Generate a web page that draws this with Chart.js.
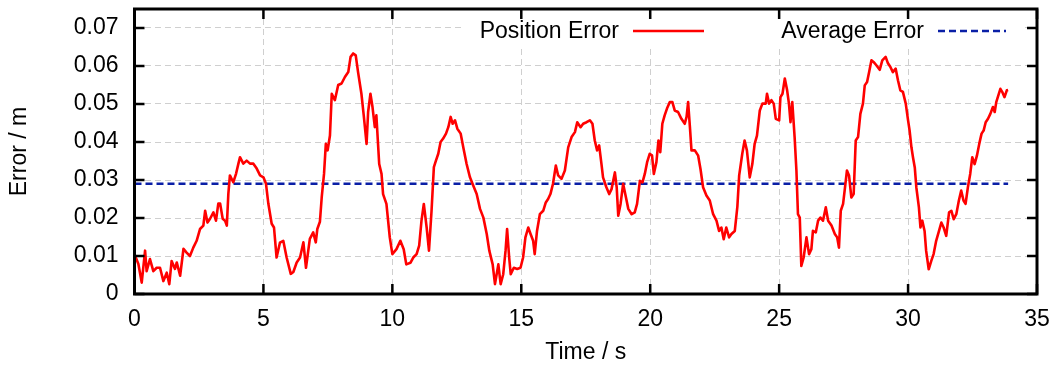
<!DOCTYPE html>
<html>
<head>
<meta charset="utf-8">
<script src="https://cdn.jsdelivr.net/npm/chart.js@4"></script>
<style>
  html, body { margin: 0; padding: 0; background: #fff; }
  #wrap { width: 1057px; height: 367px; }
</style>
</head>
<body>
<div id="wrap"><canvas id="canvas0" width="1057" height="367"></canvas></div>
<script>
// time (s) and position error (m)
const timeS = [
  0, 0.15, 0.28, 0.41, 0.47, 0.60, 0.73, 0.86, 0.99, 1.12, 1.25, 1.35, 1.44, 1.57, 1.64, 1.77, 1.90,
  2.02, 2.15, 2.28, 2.41, 2.54, 2.67, 2.74, 2.83, 2.93, 3.06, 3.16, 3.25, 3.32, 3.42, 3.51, 3.58,
  3.64, 3.70, 3.83, 3.94, 4.03, 4.09, 4.22, 4.35, 4.48, 4.61, 4.74, 4.87, 5.00, 5.10, 5.19, 5.32,
  5.41, 5.51, 5.64, 5.77, 5.90, 6.06, 6.16, 6.29, 6.42, 6.55, 6.65, 6.80, 6.93, 7.03, 7.09, 7.19,
  7.26, 7.35, 7.42, 7.49, 7.58, 7.65, 7.77, 7.90, 8.03, 8.16, 8.29, 8.38, 8.48, 8.58, 8.67, 8.80,
  8.89, 9.00, 9.06, 9.15, 9.23, 9.32, 9.38, 9.49, 9.58, 9.64, 9.77, 9.90, 10.00, 10.16, 10.31, 10.44,
  10.54, 10.70, 10.81, 10.94, 11.04, 11.13, 11.22, 11.33, 11.42, 11.52, 11.61, 11.69, 11.78, 11.87,
  11.97, 12.08, 12.17, 12.26, 12.34, 12.43, 12.52, 12.65, 12.75, 12.88, 13.01, 13.14, 13.27, 13.40,
  13.53, 13.66, 13.76, 13.89, 13.98, 14.11, 14.20, 14.30, 14.39, 14.45, 14.53, 14.59, 14.71, 14.84,
  14.97, 15.07, 15.16, 15.27, 15.36, 15.46, 15.52, 15.61, 15.72, 15.85, 15.95, 16.04, 16.13, 16.23,
  16.34, 16.43, 16.56, 16.69, 16.82, 16.95, 17.08, 17.17, 17.30, 17.40, 17.53, 17.66, 17.76, 17.85,
  17.94, 18.02, 18.11, 18.17, 18.30, 18.41, 18.50, 18.63, 18.70, 18.76, 18.85, 18.95, 19.06, 19.15,
  19.28, 19.40, 19.49, 19.60, 19.70, 19.79, 19.88, 19.98, 20.07, 20.14, 20.24, 20.32, 20.39, 20.47,
  20.56, 20.65, 20.76, 20.86, 20.95, 21.08, 21.21, 21.34, 21.41, 21.47, 21.54, 21.60, 21.73, 21.86,
  21.95, 22.05, 22.18, 22.31, 22.44, 22.57, 22.67, 22.76, 22.85, 22.95, 23.06, 23.15, 23.28, 23.38,
  23.45, 23.57, 23.66, 23.75, 23.86, 23.96, 24.05, 24.14, 24.25, 24.35, 24.48, 24.53, 24.61, 24.70,
  24.79, 24.87, 25.00, 25.05, 25.13, 25.22, 25.31, 25.38, 25.44, 25.51, 25.60, 25.67, 25.73, 25.80,
  25.86, 25.95, 26.06, 26.16, 26.25, 26.31, 26.42, 26.51, 26.60, 26.70, 26.81, 26.90, 27.03, 27.16,
  27.25, 27.32, 27.39, 27.48, 27.54, 27.63, 27.71, 27.80, 27.89, 27.97, 28.06, 28.15, 28.25, 28.32,
  28.41, 28.49, 28.58, 28.67, 28.77, 28.90, 29.00, 29.13, 29.22, 29.31, 29.41, 29.52, 29.61, 29.70,
  29.80, 29.91, 30.00, 30.06, 30.13, 30.19, 30.26, 30.32, 30.42, 30.48, 30.55, 30.64, 30.70, 30.80,
  30.90, 30.99, 31.09, 31.20, 31.29, 31.38, 31.48, 31.59, 31.68, 31.77, 31.87, 31.97, 32.06, 32.15,
  32.23, 32.32, 32.41, 32.49, 32.58, 32.67, 32.76, 32.85, 32.93, 33.01, 33.10, 33.19, 33.29, 33.36,
  33.42, 33.48, 33.58, 33.65, 33.74, 33.83, 33.88
];
const positionError = [
  0.0105, 0.0079, 0.0030, 0.0114, 0.0060, 0.0092, 0.0060, 0.0069, 0.0069, 0.0034, 0.0056, 0.0026, 0.0087, 0.0066, 0.0083, 0.0048, 0.0119,
  0.0109, 0.0100, 0.0122, 0.0140, 0.0171, 0.0180, 0.0219, 0.0188, 0.0198, 0.0215, 0.0193, 0.0238, 0.0238, 0.0198, 0.0193, 0.0180,
  0.0264, 0.0312, 0.0294, 0.0317, 0.0343, 0.0360, 0.0343, 0.0351, 0.0343, 0.0343, 0.0330, 0.0312, 0.0307, 0.0290, 0.0238, 0.0185,
  0.0175, 0.0096, 0.0135, 0.0140, 0.0096, 0.0053, 0.0058, 0.0083, 0.0096, 0.0136, 0.0069, 0.0145, 0.0162, 0.0136, 0.0171, 0.0190,
  0.0254, 0.0316, 0.0395, 0.0378, 0.0417, 0.0527, 0.0510, 0.0550, 0.0554, 0.0571, 0.0584, 0.0624, 0.0633, 0.0628, 0.0584, 0.0527,
  0.0470, 0.0395, 0.0479, 0.0527, 0.0492, 0.0439, 0.0470, 0.0342, 0.0316, 0.0263, 0.0237, 0.0149, 0.0105, 0.0118, 0.0140, 0.0118,
  0.0078, 0.0082, 0.0096, 0.0105, 0.0127, 0.0193, 0.0237, 0.0175, 0.0114, 0.0219, 0.0334, 0.0351, 0.0369, 0.0400,
  0.0409, 0.0422, 0.0439, 0.0466, 0.0448, 0.0457, 0.0435, 0.0422, 0.0386, 0.0342, 0.0307, 0.0285, 0.0263, 0.0224,
  0.0201, 0.0158, 0.0114, 0.0078, 0.0026, 0.0078, 0.0026, 0.0052, 0.0114, 0.0171, 0.0096, 0.0052, 0.0069, 0.0066,
  0.0069, 0.0096, 0.0149, 0.0175, 0.0158, 0.0140, 0.0105, 0.0166, 0.0210, 0.0219, 0.0241, 0.0250, 0.0263, 0.0290,
  0.0338, 0.0312, 0.0303, 0.0325, 0.0386, 0.0413, 0.0426, 0.0452, 0.0439, 0.0448, 0.0452, 0.0457, 0.0448, 0.0404,
  0.0378, 0.0391, 0.0342, 0.0307, 0.0281, 0.0263, 0.0276, 0.0320, 0.0281, 0.0206, 0.0237, 0.0290, 0.0254, 0.0224,
  0.0210, 0.0215, 0.0237, 0.0298, 0.0294, 0.0316, 0.0347, 0.0369, 0.0365, 0.0316, 0.0347, 0.0404, 0.0373, 0.0448,
  0.0470, 0.0488, 0.0505, 0.0505, 0.0483, 0.0479, 0.0461, 0.0448, 0.0466, 0.0505, 0.0439, 0.0378, 0.0378, 0.0364,
  0.0329, 0.0281, 0.0259, 0.0246, 0.0210, 0.0193, 0.0166, 0.0175, 0.0144, 0.0175, 0.0149, 0.0158, 0.0166, 0.0230,
  0.0312, 0.0369, 0.0404, 0.0378, 0.0307, 0.0342, 0.0395, 0.0417, 0.0483, 0.0501, 0.0501, 0.0527, 0.0501, 0.0510,
  0.0501, 0.0461, 0.0457, 0.0518, 0.0527, 0.0567, 0.0536, 0.0501, 0.0452, 0.0505, 0.0413, 0.0325, 0.0210, 0.0201,
  0.0074, 0.0096, 0.0149, 0.0105, 0.0118, 0.0166, 0.0162, 0.0193, 0.0201, 0.0193, 0.0228, 0.0193, 0.0180, 0.0158,
  0.0149, 0.0122, 0.0219, 0.0237, 0.0272, 0.0325, 0.0312, 0.0254, 0.0263, 0.0404, 0.0413, 0.0474, 0.0501, 0.0549,
  0.0558, 0.0584, 0.0615, 0.0610, 0.0602, 0.0590, 0.0615, 0.0624, 0.0607, 0.0598, 0.0584, 0.0593, 0.0562, 0.0536,
  0.0532, 0.0501, 0.0457, 0.0430, 0.0386, 0.0360, 0.0333, 0.0281, 0.0228, 0.0175, 0.0193, 0.0166, 0.0114, 0.0065,
  0.0087, 0.0105, 0.0140, 0.0166, 0.0188, 0.0175, 0.0153, 0.0215, 0.0219, 0.0197, 0.0210, 0.0246, 0.0272, 0.0246,
  0.0237, 0.0281, 0.0316, 0.0360, 0.0342, 0.0364, 0.0395, 0.0422, 0.0430, 0.0452, 0.0461, 0.0474, 0.0492, 0.0479,
  0.0505, 0.0518, 0.0540, 0.0532, 0.0518, 0.0536, 0.0537
];
const avgTime = [0, 33.88];
const avgError = [0.029, 0.029];
const xTicks = [0, 5, 10, 15, 20, 25, 30, 35];
const yTicks = [0, 0.01, 0.02, 0.03, 0.04, 0.05, 0.06, 0.07];
const seriesNames = ['Position Error', 'Average Error'];

const FONT = "'Liberation Sans', Arial, Helvetica, sans-serif";
const fontSpec = { family: FONT, size: 23 };
Chart.defaults.font.family = FONT;
Chart.defaults.color = '#000';

function toPoints(xs, ys) {
  let pts = [];
  for (let i = 0; i < xs.length; i++) pts.push({ x: xs[i], y: ys[i] });
  return pts;
}

// gnuplot style frame: border, inward mirrored ticks, opaque key
const gnuFrame = {
  id: 'gnuFrame',
  beforeDatasetsDraw(chart) {
    const ctx = chart.ctx;
    ctx.save();
    ctx.fillStyle = '#fff';
    ctx.fillRect(462, chart.chartArea.top, 560, 40);
    ctx.restore();
  },
  afterDraw(chart) {
    const ctx = chart.ctx;
    const a = chart.chartArea;
    const xs = chart.scales.x, ys = chart.scales.y;
    ctx.save();
    ctx.strokeStyle = '#000';
    ctx.lineWidth = 2.5;
    ctx.beginPath();
    xTicks.forEach(v => {
      const px = xs.getPixelForValue(v);
      ctx.moveTo(px, a.bottom); ctx.lineTo(px, a.bottom - 10);
      ctx.moveTo(px, a.top); ctx.lineTo(px, a.top + 10);
    });
    yTicks.forEach(v => {
      const py = ys.getPixelForValue(v);
      ctx.moveTo(a.left, py); ctx.lineTo(a.left + 10, py);
      ctx.moveTo(a.right, py); ctx.lineTo(a.right - 10, py);
    });
    ctx.stroke();
    ctx.lineWidth = 3;
    ctx.strokeRect(a.left, a.top, a.right - a.left, a.bottom - a.top);

    // key
    ctx.font = '23px ' + FONT;
    ctx.fillStyle = '#000';
    ctx.textAlign = 'right';
    ctx.textBaseline = 'middle';
    const keyX = [619, 924];
    chart.data.datasets.forEach((ds, i) => {
      ctx.fillText(seriesNames[i], keyX[i], 32);
      ctx.strokeStyle = ds.borderColor;
      ctx.lineWidth = ds.borderWidth;
      ctx.setLineDash(ds.borderDash || []);
      ctx.beginPath();
      ctx.moveTo(keyX[i] + 14, 31);
      ctx.lineTo(keyX[i] + (i === 0 ? 85 : 82), 31);
      ctx.stroke();
    });
    ctx.restore();
  }
};

const ctx = document.getElementById('canvas0').getContext('2d');
const myChart = new Chart(ctx, {
  type: 'line',
  data: {
    datasets: [
      {
        label: seriesNames[0],
        data: toPoints(timeS, positionError),
        borderColor: '#ff0000',
        borderWidth: 2.6,
        borderJoinStyle: 'round',
        pointRadius: 0,
        tension: 0
      },
      {
        label: seriesNames[1],
        data: toPoints(avgTime, avgError),
        borderColor: '#0a1fa6',
        borderWidth: 2.4,
        borderDash: [7, 4],
        pointRadius: 0,
        tension: 0
      }
    ]
  },
  options: {
    responsive: false,
    animation: false,
    devicePixelRatio: 1,
    layout: { padding: { left: 0, top: 9, right: 20, bottom: 0 } },
    plugins: { legend: { display: false }, tooltip: { enabled: false } },
    scales: {
      x: {
        type: 'linear',
        min: 0,
        max: 35,
        afterBuildTicks: s => { s.ticks = xTicks.map(v => ({ value: v })); },
        afterFit: s => { s.height = 73; s.paddingLeft = 0; s.paddingRight = 0; },
        grid: { color: '#cfcfcf', lineWidth: 1, drawTicks: false },
        border: { display: false, dash: [6, 4] },
        ticks: { font: fontSpec, color: '#000', padding: 12, maxRotation: 0 },
        title: { display: true, text: 'Time / s', font: fontSpec, color: '#000', padding: { top: 0, bottom: 1 } }
      },
      y: {
        type: 'linear',
        min: 0,
        max: 0.075,
        afterBuildTicks: s => { s.ticks = yTicks.map(v => ({ value: v })); },
        afterFit: s => { s.width = 134.5; s.paddingTop = 0; s.paddingBottom = 0; },
        grid: { color: '#cfcfcf', lineWidth: 1, drawTicks: false },
        border: { display: false, dash: [6, 4] },
        ticks: {
          font: fontSpec,
          color: '#000',
          padding: 16,
          callback: v => (v === 0 ? '0' : v.toFixed(2))
        },
        title: { display: true, text: 'Error / m', font: fontSpec, color: '#000', padding: { top: 6, bottom: 0 } }
      }
    }
  },
  plugins: [gnuFrame]
});
</script>
</body>
</html>
